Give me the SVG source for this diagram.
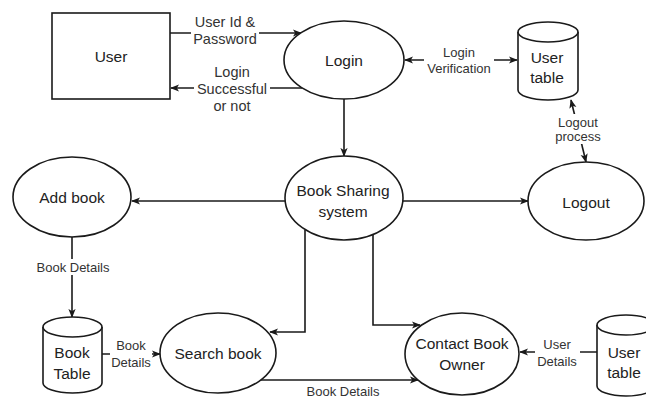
<svg xmlns="http://www.w3.org/2000/svg" width="646" height="397" viewBox="0 0 646 397">
<style>
  .shape { fill: #ffffff; stroke: #1a1a1a; stroke-width: 1.6; }
  .edge { fill: none; stroke: #1a1a1a; stroke-width: 1.6; }
  .node-text { font-family: "Liberation Sans", Arial, sans-serif; font-size: 15.5px; fill: #222; text-anchor: middle; dominant-baseline: central; }
  .lbl { font-family: "Liberation Sans", Arial, sans-serif; font-size: 13px; fill: #333; text-anchor: middle; dominant-baseline: central; }
  .lbl-big { font-family: "Liberation Sans", Arial, sans-serif; font-size: 14.5px; fill: #333; text-anchor: middle; dominant-baseline: central; }
  .bg { fill: #ffffff; stroke: none; }
</style>
<defs>
  <marker id="arrow" viewBox="0 0 10 8" refX="9" refY="4" markerWidth="9" markerHeight="8" markerUnits="userSpaceOnUse" orient="auto-start-reverse">
    <path d="M0,0 L10,4 L0,8 L2.5,4 z" fill="#1a1a1a"/>
  </marker>
</defs>
<rect width="646" height="397" fill="#ffffff"/>

<g id="connectors">
  <!-- User -> Login -->
  <line class="edge" x1="170" y1="33" x2="301" y2="33" marker-end="url(#arrow)"/>
  <!-- Login -> User -->
  <line class="edge" x1="302" y1="88" x2="171" y2="88" marker-end="url(#arrow)"/>
  <!-- Login <-> User table -->
  <line class="edge" x1="405" y1="60" x2="517" y2="60" marker-start="url(#arrow)" marker-end="url(#arrow)"/>
  <!-- User table <-> Logout -->
  <line class="edge" x1="571" y1="100" x2="586" y2="162" marker-start="url(#arrow)" marker-end="url(#arrow)"/>
  <!-- Login -> Book Sharing -->
  <line class="edge" x1="344" y1="99" x2="344" y2="156" marker-end="url(#arrow)"/>
  <!-- Book Sharing -> Add book -->
  <line class="edge" x1="285" y1="201" x2="132" y2="201" marker-end="url(#arrow)"/>
  <!-- Book Sharing -> Logout -->
  <line class="edge" x1="403" y1="201" x2="528" y2="201" marker-end="url(#arrow)"/>
  <!-- Add book -> Book Table -->
  <line class="edge" x1="72" y1="237" x2="72" y2="317" marker-end="url(#arrow)"/>
  <!-- Book Table -> Search book -->
  <line class="edge" x1="102" y1="354" x2="160" y2="354" marker-end="url(#arrow)"/>
  <!-- Book Sharing -> Search book -->
  <polyline class="edge" points="305,230 305,332 270,332" marker-end="url(#arrow)"/>
  <!-- Book Sharing -> Contact Book Owner -->
  <polyline class="edge" points="373,235 373,325 420,325" marker-end="url(#arrow)"/>
  <!-- Search book -> Contact Book Owner -->
  <line class="edge" x1="261" y1="380" x2="418" y2="380" marker-end="url(#arrow)"/>
  <!-- User table 2 -> Contact Book Owner -->
  <line class="edge" x1="597" y1="352" x2="520" y2="352" marker-end="url(#arrow)"/>

  <!-- labels -->
  <rect class="bg" x="191" y="14" width="68" height="34"/>
  <text class="lbl-big" x="225" y="22">User Id &amp;</text>
  <text class="lbl-big" x="225" y="39">Password</text>

  <rect class="bg" x="194" y="64" width="76" height="50"/>
  <text class="lbl-big" x="232" y="72">Login</text>
  <text class="lbl-big" x="232" y="89">Successful</text>
  <text class="lbl-big" x="232" y="106">or not</text>

  <rect class="bg" x="424" y="45" width="70" height="31"/>
  <text class="lbl" x="459" y="52">Login</text>
  <text class="lbl" x="459" y="68">Verification</text>

  <rect class="bg" x="553" y="114" width="51" height="30"/>
  <text class="lbl" x="578" y="122">Logout</text>
  <text class="lbl" x="578" y="136">process</text>

  <rect class="bg" x="34" y="259" width="78" height="16"/>
  <text class="lbl" x="73" y="267">Book Details</text>

  <rect class="bg" x="110" y="338" width="42" height="32"/>
  <text class="lbl" x="131" y="345">Book</text>
  <text class="lbl" x="131" y="362">Details</text>

  <text class="lbl" x="343" y="391">Book Details</text>

  <rect class="bg" x="535" y="336" width="45" height="32"/>
  <text class="lbl" x="557" y="344">User</text>
  <text class="lbl" x="557" y="361">Details</text>
</g>

<g id="user">
  <rect class="shape" x="52" y="13" width="118" height="86"/>
  <text class="node-text" x="111" y="56">User</text>
</g>

<g id="login">
  <ellipse class="shape" cx="344" cy="60" rx="60" ry="39"/>
  <text class="node-text" x="344" y="60">Login</text>
</g>

<g id="user-table-1">
  <path class="shape" d="M518,32 A30,10 0 0 1 578,32 L578,90 A30,10 0 0 1 518,90 Z"/>
  <path class="shape" fill="none" d="M518,32 A30,10 0 0 0 578,32"/>
  <text class="node-text" x="547" y="57">User</text>
  <text class="node-text" x="547" y="77">table</text>
</g>

<g id="book-sharing-system">
  <ellipse class="shape" cx="344" cy="198" rx="59" ry="42"/>
  <text class="node-text" x="343" y="190">Book Sharing</text>
  <text class="node-text" x="343" y="211">system</text>
</g>

<g id="logout">
  <ellipse class="shape" cx="586" cy="201" rx="58" ry="39"/>
  <text class="node-text" x="586" y="202">Logout</text>
</g>

<g id="add-book">
  <ellipse class="shape" cx="72" cy="197" rx="59" ry="40"/>
  <text class="node-text" x="72" y="197">Add book</text>
</g>

<g id="book-table">
  <path class="shape" d="M43,327 A29.5,10 0 0 1 102,327 L102,383 A29.5,10 0 0 1 43,383 Z"/>
  <path class="shape" fill="none" d="M43,327 A29.5,10 0 0 0 102,327"/>
  <text class="node-text" x="72" y="352">Book</text>
  <text class="node-text" x="72" y="373">Table</text>
</g>

<g id="search-book">
  <ellipse class="shape" cx="218" cy="353" rx="58" ry="40"/>
  <text class="node-text" x="218" y="353">Search book</text>
</g>

<g id="contact-book-owner">
  <ellipse class="shape" cx="462" cy="354" rx="57" ry="41"/>
  <text class="node-text" x="462" y="343">Contact Book</text>
  <text class="node-text" x="462" y="364">Owner</text>
</g>

<g id="user-table-2">
  <path class="shape" d="M597,325 A29,10 0 0 1 655,325 L655,386 A29,10 0 0 1 597,386 Z"/>
  <path class="shape" fill="none" d="M597,325 A29,10 0 0 0 655,325"/>
  <text class="node-text" x="624" y="352">User</text>
  <text class="node-text" x="624" y="372">table</text>
</g>
</svg>
